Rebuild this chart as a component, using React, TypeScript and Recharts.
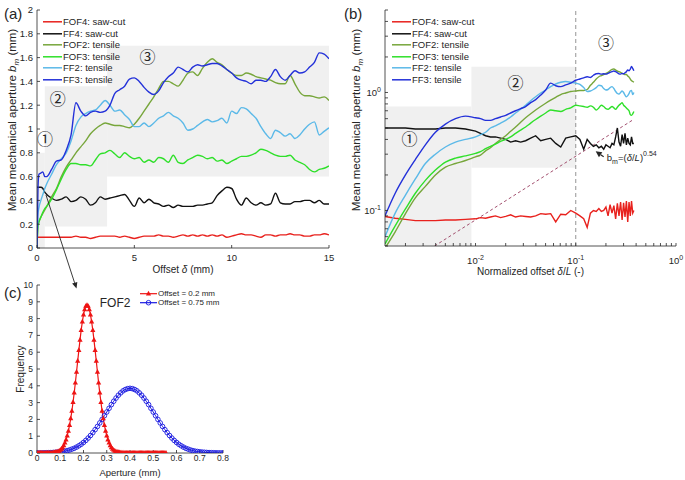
import React from "react";
import {
  LineChart,
  Line,
  XAxis,
  YAxis,
  ReferenceArea,
  ReferenceLine,
  ReferenceDot,
} from "recharts";

const FONT = '"Liberation Sans", Arial, Helvetica, sans-serif';
const CIRCLED_FONT = '"Noto Sans CJK SC", "Noto Sans CJK JP", "DejaVu Sans", sans-serif';
const INK = "#262626";
const SHADE = "#f0f0f0";

// ---- series shared by panels (a) and (b)
const seriesKeys = ["FOF4", "FF4", "FOF2", "FOF3", "FF2", "FF3"];
const seriesNames = ["FOF4: saw-cut", "FF4: saw-cut", "FOF2: tensile", "FOF3: tensile", "FF2: tensile", "FF3: tensile"];
const seriesColors = ["#e8211d", "#111111", "#77a63b", "#2fe02a", "#5bb9e8", "#2331d9"];

// ---- panel (a): offset in mm
const offsetMm = [
  0, 0.05, 0.1, 0.2, 0.3, 0.4, 0.5, 0.75,
  1, 1.25, 1.5, 1.75, 2, 2.25, 2.5, 2.75,
  3, 3.25, 3.5, 3.75, 4, 4.25, 4.5, 4.75,
  5, 5.25, 5.5, 5.75, 6, 6.25, 6.5, 6.75,
  7, 7.25, 7.5, 7.75, 8, 8.25, 8.5, 8.75,
  9, 9.25, 9.5, 9.75, 10, 10.25, 10.5, 10.75,
  11, 11.25, 11.5, 11.75, 12, 12.25, 12.5, 12.75,
  13, 13.25, 13.5, 13.75, 14, 14.25, 14.5, 14.75,
  15,
];
const aFOF4 = [
  0.09, 0.09, 0.09, 0.09, 0.09, 0.09, 0.09, 0.09,
  0.09, 0.09, 0.09, 0.09, 0.1, 0.09, 0.09, 0.08,
  0.09, 0.1, 0.1, 0.1, 0.1, 0.09, 0.1, 0.09,
  0.08, 0.09, 0.1, 0.1, 0.1, 0.11, 0.1, 0.1,
  0.09, 0.1, 0.11, 0.1, 0.11, 0.1, 0.11, 0.1,
  0.11, 0.1, 0.11, 0.09, 0.1, 0.11, 0.12, 0.11,
  0.11, 0.1, 0.09, 0.11, 0.11, 0.1, 0.11, 0.11,
  0.12, 0.11, 0.11, 0.1, 0.1, 0.11, 0.11, 0.12,
  0.11,
];
const aFF4 = [
  0.51, 0.51, 0.51, 0.51, 0.5, 0.47, 0.45, 0.42,
  0.4, 0.41, 0.43, 0.39, 0.4, 0.43, 0.41, 0.36,
  0.38, 0.43, 0.41, 0.42, 0.43, 0.44, 0.45, 0.4,
  0.35, 0.42, 0.38, 0.41, 0.38, 0.37, 0.35, 0.36,
  0.34, 0.36, 0.35, 0.35, 0.35, 0.36, 0.36, 0.37,
  0.38, 0.44, 0.48, 0.51, 0.5, 0.41, 0.36, 0.42,
  0.38, 0.36, 0.38, 0.36, 0.37, 0.46, 0.38, 0.37,
  0.37, 0.39, 0.39, 0.4, 0.4, 0.38, 0.4, 0.37,
  0.37,
];
const aFOF2 = [
  0, 0.19, 0.22, 0.26, 0.29, 0.32, 0.35, 0.43,
  0.5, 0.6, 0.68, 0.74, 0.8, 0.85, 0.9, 0.96,
  1.0, 1.03, 1.05, 1.04, 1.03, 1.03, 1.02, 1.01,
  1.04, 1.09, 1.15, 1.21, 1.27, 1.34, 1.4, 1.4,
  1.38, 1.36, 1.41, 1.47, 1.48, 1.45, 1.51, 1.56,
  1.59, 1.56, 1.54, 1.5, 1.47, 1.45, 1.45, 1.47,
  1.46, 1.44, 1.43, 1.42, 1.41, 1.39, 1.38, 1.38,
  1.45, 1.38, 1.31, 1.28, 1.28, 1.27, 1.26, 1.27,
  1.24,
];
const aFOF3 = [
  0, 0.19, 0.22, 0.26, 0.3, 0.33, 0.35, 0.41,
  0.49, 0.58, 0.66, 0.71, 0.71, 0.7, 0.7, 0.69,
  0.74, 0.79, 0.8, 0.82, 0.79, 0.76, 0.8, 0.77,
  0.75, 0.76, 0.72, 0.74, 0.72, 0.76, 0.75, 0.72,
  0.78, 0.72, 0.71, 0.74, 0.76, 0.78, 0.77, 0.75,
  0.76, 0.73, 0.74, 0.71, 0.73, 0.75, 0.77, 0.77,
  0.78, 0.8, 0.83, 0.82, 0.8, 0.78, 0.77, 0.77,
  0.78, 0.74, 0.72, 0.7, 0.66, 0.64, 0.66, 0.67,
  0.69,
];
const aFF2 = [
  0, 0.28, 0.34, 0.4, 0.45, 0.5, 0.54, 0.62,
  0.7, 0.75, 0.8, 0.9, 1.03, 1.1, 1.13, 1.15,
  1.16, 1.2, 1.24, 1.2, 1.15, 1.16, 1.12, 1.08,
  1.02, 1.02, 1.05, 1.02, 1.05, 1.09, 1.11, 1.14,
  1.11, 1.09, 1.05, 0.99, 1.0, 1.03, 1.06, 1.08,
  1.06, 1.07, 1.09, 1.05, 1.15, 1.13, 1.18, 1.17,
  1.13, 1.09, 1.02, 0.96, 0.92, 0.99, 0.97, 0.94,
  0.96, 0.92, 0.95, 1.0, 1.04, 1.06, 0.95, 0.98,
  1.01,
];
const aFF3 = [
  0, 0.5, 0.62, 0.63, 0.64, 0.6, 0.6, 0.66,
  0.73, 0.74, 0.82, 0.95, 1.22, 1.15, 1.11, 1.14,
  1.15, 1.14, 1.15, 1.2, 1.3, 1.33, 1.36, 1.42,
  1.43, 1.4, 1.35, 1.31, 1.29, 1.32, 1.39, 1.44,
  1.47, 1.52, 1.5, 1.48, 1.52, 1.54, 1.53, 1.54,
  1.55, 1.55, 1.53, 1.5, 1.47, 1.43, 1.41, 1.4,
  1.38, 1.41, 1.41, 1.4, 1.44, 1.5, 1.44, 1.41,
  1.45, 1.49, 1.47, 1.48, 1.52, 1.56, 1.64, 1.63,
  1.59,
];
const aXTicks = [0, 5, 10, 15];
const aYTicks = [0, 0.2, 0.4, 0.6, 0.8, 1, 1.2, 1.4, 1.6, 1.8, 2];

// ---- panel (b): normalized offset (log-log)
const normOffset = [
  0.00125, 0.00158, 0.002, 0.00251, 0.00316, 0.00398, 0.00501, 0.00631, 0.00794, 0.01,
  0.0112, 0.0126, 0.0141, 0.0158, 0.0178, 0.02, 0.0224, 0.0251, 0.0282, 0.0316,
  0.0355, 0.0398, 0.0447, 0.0501, 0.0562, 0.0631, 0.0708, 0.0794, 0.0891, 0.1,
  0.11, 0.12, 0.13, 0.14, 0.15, 0.16, 0.17, 0.18, 0.19, 0.2,
  0.21, 0.22, 0.23, 0.24, 0.25, 0.26, 0.27, 0.28, 0.29, 0.3,
  0.31, 0.32, 0.33, 0.34, 0.35, 0.36, 0.37, 0.38,
];
const bFOF4 = [
  0.089, 0.086, 0.084, 0.082, 0.082, 0.082, 0.083, 0.083, 0.084, 0.085,
  0.087, 0.086, 0.088, 0.09, 0.087, 0.089, 0.092, 0.088, 0.09, 0.089,
  0.088, 0.09, 0.094, 0.093, 0.094, 0.08, 0.093, 0.092, 0.1, 0.095,
  0.09, 0.085, 0.072, 0.095, 0.1, 0.098, 0.104, 0.098, 0.1, 0.107,
  0.09, 0.112, 0.095, 0.11, 0.085, 0.115, 0.09, 0.118, 0.083, 0.116,
  0.088, 0.12, 0.08, 0.118, 0.09, 0.12, 0.095, 0.1,
];
const bFF4 = [
  0.5, 0.5, 0.5, 0.49, 0.49, 0.49, 0.5, 0.5, 0.49, 0.47,
  0.45, 0.43, 0.42, 0.42, 0.41, 0.4, 0.38, 0.39, 0.38, 0.39,
  0.41, 0.43, 0.39, 0.4, 0.41, 0.37, 0.345, 0.41, 0.42, 0.43,
  0.4, 0.33, 0.4, 0.37, 0.35, 0.36, 0.34, 0.35, 0.33, 0.36,
  0.35, 0.34, 0.37, 0.36, 0.42, 0.5, 0.38, 0.35, 0.44, 0.37,
  0.45, 0.36, 0.41, 0.37, 0.36, 0.42, 0.37, 0.37,
];
const bFOF2 = [
  0.048, 0.066, 0.094, 0.128, 0.16, 0.2, 0.233, 0.25, 0.265, 0.285,
  0.295, 0.32, 0.34, 0.37, 0.4, 0.43, 0.47, 0.51, 0.56, 0.61,
  0.66, 0.71, 0.76, 0.81, 0.86, 0.91, 0.96, 0.99, 1.02, 1.03,
  1.04, 1.04, 1.06, 1.15, 1.22, 1.3, 1.36, 1.39, 1.42, 1.45,
  1.48, 1.53, 1.57, 1.58, 1.55, 1.52, 1.5, 1.48, 1.45, 1.44,
  1.42, 1.42, 1.38, 1.35, 1.3, 1.26, 1.24, 1.22,
];
const bFOF3 = [
  0.052, 0.074, 0.103, 0.14, 0.18, 0.22, 0.257, 0.278, 0.29, 0.305,
  0.315, 0.334, 0.35, 0.365, 0.385, 0.4, 0.42, 0.45, 0.48, 0.51,
  0.55, 0.59, 0.63, 0.67, 0.71, 0.7, 0.69, 0.72, 0.74, 0.78,
  0.77, 0.76, 0.75, 0.77, 0.75, 0.71, 0.74, 0.78, 0.76, 0.73,
  0.72, 0.74, 0.76, 0.74, 0.72, 0.75, 0.78, 0.8, 0.82, 0.78,
  0.76, 0.74, 0.72, 0.7, 0.65, 0.64, 0.66, 0.69,
];
const bFF2 = [
  0.06, 0.095, 0.135, 0.185, 0.25, 0.3, 0.345, 0.38, 0.4, 0.42,
  0.44, 0.46, 0.5, 0.52, 0.55, 0.58, 0.62, 0.67, 0.72, 0.78,
  0.85, 0.92, 0.99, 1.05, 1.12, 1.18, 1.22, 1.24, 1.22, 1.2,
  1.17, 1.1, 1.02, 1.03, 1.06, 1.1, 1.15, 1.14, 1.08, 1.05,
  1.06, 1.1, 1.12, 1.08, 1.02, 0.98, 0.97, 1.0, 1.03, 1.0,
  0.95, 0.92, 0.94, 0.98, 1.03, 1.04, 0.96, 1.0,
];
const bFF3 = [
  0.09, 0.14, 0.2, 0.27, 0.36, 0.46, 0.54, 0.6, 0.63, 0.61,
  0.6, 0.58, 0.58, 0.6, 0.62, 0.64, 0.67, 0.7, 0.73, 0.76,
  0.82, 0.87, 0.95, 1.05, 1.2, 1.14, 1.12, 1.16, 1.2, 1.27,
  1.3, 1.33, 1.36, 1.34, 1.4, 1.44, 1.45, 1.43, 1.44, 1.43,
  1.45, 1.48, 1.5, 1.52, 1.5, 1.47, 1.44, 1.43, 1.45, 1.44,
  1.47, 1.5, 1.55, 1.53, 1.58, 1.66, 1.6, 1.53,
];
const bXTicks = [
  0.002, 0.003, 0.004, 0.005, 0.006, 0.007, 0.008, 0.009,
  0.01, 0.02, 0.03, 0.04, 0.05, 0.06, 0.07, 0.08, 0.09,
  0.1, 0.2, 0.3, 0.4, 0.5, 0.6, 0.7, 0.8, 0.9, 1,
];
const bYTicks = [
  0.05, 0.06, 0.07, 0.08, 0.09,
  0.1, 0.2, 0.3, 0.4, 0.5, 0.6, 0.7, 0.8, 0.9,
  1, 2, 3, 4, 5,
];
// power-law guide b_m = (δ/L)^0.54, end points
const fitX = [0.0039, 0.38];
const fitY = [0.05, 0.593];

// ---- panel (c): aperture distributions of FOF2
const redStep = 0.005; // offset = 0.2 mm
const redFreq = [
  0, 0, 0, 0, 0, 0, 0, 0, 0, 0, 0, 0,
  0.01, 0.01, 0.02, 0.03, 0.04, 0.06, 0.08, 0.12, 0.17, 0.24,
  0.33, 0.45, 0.6, 0.79, 1.03, 1.31, 1.65, 2.05, 2.5, 3.02,
  3.58, 4.18, 4.82, 5.47, 6.11, 6.73, 7.31, 7.81, 8.23, 8.54,
  8.74, 8.8, 8.74, 8.54, 8.23, 7.81, 7.31, 6.73, 6.11, 5.47,
  4.82, 4.18, 3.58, 3.02, 2.5, 2.05, 1.65, 1.31, 1.03, 0.79,
  0.6, 0.45, 0.33, 0.24, 0.17, 0.12, 0.08, 0.06, 0.04, 0.03,
  0.02, 0.01, 0.01,
  0, 0, 0, 0, 0, 0, 0, 0, 0, 0, 0, 0, 0, 0, 0, 0, 0, 0, 0,
  0, 0, 0, 0, 0, 0, 0, 0, 0, 0, 0, 0, 0, 0, 0, 0, 0, 0,
];
const blueStep = 0.01; // offset = 0.75 mm
const blueFreq = [
  0.004, 0.005, 0.007, 0.01, 0.013, 0.018, 0.024, 0.032, 0.042, 0.055,
  0.07, 0.09, 0.11, 0.14, 0.18, 0.23, 0.28, 0.35, 0.43, 0.52,
  0.63, 0.75, 0.89, 1.04, 1.21, 1.39, 1.58, 1.79, 2.0, 2.22,
  2.44, 2.66, 2.88, 3.08, 3.27, 3.44, 3.58, 3.7, 3.78, 3.83,
  3.85,
  3.83, 3.78, 3.7, 3.58, 3.44, 3.27, 3.08, 2.88, 2.66, 2.44,
  2.22, 2.0, 1.79, 1.58, 1.39, 1.21, 1.04, 0.89, 0.75, 0.63,
  0.52, 0.43, 0.35, 0.28, 0.23, 0.18, 0.14, 0.11, 0.09, 0.07,
  0.055, 0.042, 0.032, 0.024, 0.018, 0.013, 0.01, 0.007, 0.005, 0.004,
];
const cXTicks = [0, 0.1, 0.2, 0.3, 0.4, 0.5, 0.6, 0.7, 0.8];
const cYTicks = [0, 1, 2, 3, 4, 5, 6, 7, 8, 9, 10];
const RED_C = "#ee1414";
const BLUE_C = "#1818e0";

// ---- built tables
const aSeries = [aFOF4, aFF4, aFOF2, aFOF3, aFF2, aFF3];
const bSeries = [bFOF4, bFF4, bFOF2, bFOF3, bFF2, bFF3];
const buildRows = (xs: number[], cols: number[][]) =>
  xs.map((x, i) => {
    const row: any = { x };
    seriesKeys.forEach((k, s) => (row[k] = cols[s][i]));
    return row;
  });
const aData = buildRows(offsetMm, aSeries);
const bData = buildRows(normOffset, bSeries);
const fitData = fitX.map((x, i) => ({ x, fit: fitY[i] }));
const redData = redFreq.map((f, i) => ({ a: Math.round(i * redStep * 1000) / 1000, f }));
const blueData = blueFreq.map((f, i) => ({ a: Math.round(i * blueStep * 1000) / 1000, f }));

// annotation placement (data coordinates)
const aRegions = [
  { x1: 0, x2: 0.4, y1: 0, y2: 0.8 },
  { x1: 0.4, x2: 3.6, y1: 0.18, y2: 1.36 },
  { x1: 3.6, x2: 15, y1: 0.6, y2: 1.7 },
];
const aStages = [
  { t: "①", x: 0.41, y: 0.91 },
  { t: "②", x: 1.06, y: 1.25 },
  { t: "③", x: 5.68, y: 1.6 },
];
const bRegions = [
  { x1: 0.00125, x2: 0.0091, y1: 0.05, y2: 0.76 },
  { x1: 0.0091, x2: 0.1, y1: 0.23, y2: 1.65 },
];
const bStages = [
  { t: "①", x: 0.0022, y: 0.4 },
  { t: "②", x: 0.025, y: 1.18 },
  { t: "③", x: 0.2, y: 2.6 },
];

const axisStroke = { stroke: INK, strokeWidth: 0.8 };
const tickText = { fill: INK, fontSize: 9.5, fontFamily: FONT };

const XTitle = (props: any) => {
  const { viewBox, parts, baseline, size } = props;
  if (!viewBox) return null;
  return (
    <text x={viewBox.x + viewBox.width / 2} y={viewBox.y + baseline} textAnchor="middle" fontFamily={FONT} fontSize={size} fill={INK}>
      {parts.map((p: any, i: number) => (
        <tspan key={i} fontStyle={p[1] ? "italic" : "normal"}>{p[0]}</tspan>
      ))}
    </text>
  );
};

const YTitleBm = (props: any) => {
  const { viewBox, shiftX, shiftY } = props;
  if (!viewBox) return null;
  const x = viewBox.x + shiftX;
  const y = viewBox.y + viewBox.height / 2 + shiftY;
  return (
    <text transform={`translate(${x},${y}) rotate(-90)`} textAnchor="middle" fontFamily={FONT} fontSize={11.5} fill={INK}>
      Mean mechanical aperture <tspan fontStyle="italic">b</tspan>
      <tspan fontStyle="italic" fontSize={8} dy={3}>m</tspan>
      <tspan dy={-3}> (mm)</tspan>
    </text>
  );
};

const YTitlePlain = (props: any) => {
  const { viewBox, shiftX, text, size } = props;
  if (!viewBox) return null;
  const x = viewBox.x + shiftX;
  const y = viewBox.y + viewBox.height / 2;
  return (
    <text transform={`translate(${x},${y}) rotate(-90)`} textAnchor="middle" fontFamily={FONT} fontSize={size} fill={INK}>
      {text}
    </text>
  );
};

const isDecade = (v: number) => {
  const e = Math.log10(v);
  return Math.abs(e - Math.round(e)) < 1e-6;
};

const LogTickX = (props: any) => {
  const { x, y, payload } = props;
  if (!isDecade(payload.value)) return <g />;
  const e = Math.round(Math.log10(payload.value));
  return (
    <text x={x} y={y} textAnchor="middle" fontFamily={FONT} fontSize={9.5} fill={INK}>
      <tspan dy={9}>10</tspan>
      <tspan dy={-4} fontSize={7}>{e}</tspan>
    </text>
  );
};

const LogTickY = (props: any) => {
  const { x, y, payload } = props;
  if (!isDecade(payload.value)) return <g />;
  const e = Math.round(Math.log10(payload.value));
  return (
    <text x={x} y={y} textAnchor="end" fontFamily={FONT} fontSize={9.5} fill={INK}>
      <tspan dy={4}>10</tspan>
      <tspan dy={-4} fontSize={7}>{e}</tspan>
    </text>
  );
};

const stageShape = (t: string) => (p: any) => (
  <text x={p.cx} y={p.cy} dy={5.5} textAnchor="middle" fontFamily={CIRCLED_FONT} fontSize={16} fill={INK}>
    {t}
  </text>
);

const powerLawText = (p: any) => (
  <text x={p.cx} y={p.cy} fontFamily={FONT} fontSize={9.5} fill={INK}>
    b<tspan fontSize={7} dy={3}>m</tspan>
    <tspan dy={-3}>=(</tspan>
    <tspan fontStyle="italic">δ</tspan>
    <tspan>/</tspan>
    <tspan fontStyle="italic">L</tspan>
    <tspan>)</tspan>
    <tspan fontSize={7} dy={-5}>0.54</tspan>
  </text>
);

const fof2Text = (p: any) => (
  <text x={p.cx} y={p.cy} dy={4} textAnchor="middle" fontFamily={FONT} fontSize={12} fill={INK}>
    FOF2
  </text>
);

const arrowShape = (p: any) => {
  const { x1, y1, x2, y2 } = p;
  const len = Math.hypot(x2 - x1, y2 - y1) || 1;
  const ux = (x2 - x1) / len;
  const uy = (y2 - y1) / len;
  const bx = x2 - ux * 6;
  const by = y2 - uy * 6;
  return (
    <g>
      <line x1={x1} y1={y1} x2={bx} y2={by} stroke={INK} strokeWidth={1.2} />
      <path d={`M${x2},${y2}L${bx - uy * 3},${by + ux * 3}L${bx + uy * 3},${by - ux * 3}Z`} fill={INK} />
    </g>
  );
};

const renderTriangle = (p: any) => {
  const { cx, cy, index } = p;
  if (cx == null || cy == null) return <g key={`t${index}`} />;
  return <path key={`t${index}`} d={`M${cx},${cy - 3}L${cx + 2.6},${cy + 1.7}L${cx - 2.6},${cy + 1.7}Z`} fill={RED_C} />;
};

const SeriesLegend = ({ left, top }: any) => (
  <div style={{ position: "absolute", left, top, fontFamily: FONT, fontSize: 9.5, color: INK }}>
    {seriesNames.map((name, i) => (
      <div key={name} style={{ display: "flex", alignItems: "center", height: 11.55, whiteSpace: "nowrap" }}>
        <svg width={19} height={11.55} style={{ display: "block" }}>
          <line x1={0} x2={19} y1={5.8} y2={5.8} stroke={seriesColors[i]} strokeWidth={1.5} />
        </svg>
        <span style={{ marginLeft: 1, lineHeight: "11.55px" }}>{name}</span>
      </div>
    ))}
  </div>
);

const PanelTag = ({ left, top, text }: any) => (
  <div style={{ position: "absolute", left, top, fontFamily: FONT, fontSize: 15, lineHeight: "15px", color: INK }}>{text}</div>
);

export default function App() {
  return (
    <div style={{ position: "absolute", left: 0, top: 0, width: 685, height: 480, background: "#fff", overflow: "hidden", fontFamily: FONT }}>
      {/* (a) linear offset */}
      <div style={{ position: "absolute", left: 0, top: 0 }}>
        <LineChart width={340} height={285} data={aData} margin={{ top: 10, right: 11, bottom: 7, left: 7 }}>
          {aRegions.map((r, i) => (
            <ReferenceArea key={`ar${i}`} x1={r.x1} x2={r.x2} y1={r.y1} y2={r.y2} fill={SHADE} fillOpacity={1} stroke="none" ifOverflow="hidden" />
          ))}
          <XAxis
            dataKey="x" type="number" domain={[0, 15]} ticks={aXTicks} interval={0} allowDataOverflow
            height={30} tickSize={-3} tickMargin={9} axisLine={axisStroke} tickLine={axisStroke} tick={tickText}
            label={<XTitle parts={[["Offset ", 0], ["δ", 1], [" (mm)", 0]]} baseline={25} size={10} />}
          />
          <YAxis
            type="number" domain={[0, 2]} ticks={aYTicks} interval={0} allowDataOverflow
            width={30} tickSize={-3} tickMargin={7} axisLine={axisStroke} tickLine={axisStroke} tick={tickText}
            label={<YTitleBm shiftX={9} shiftY={-9} />}
          />
          <XAxis xAxisId="top" orientation="top" dataKey="x" type="number" domain={[0, 15]} ticks={aXTicks} allowDataOverflow height={0} tickSize={-3} tick={false} axisLine={axisStroke} tickLine={axisStroke} />
          <YAxis yAxisId="right" orientation="right" type="number" domain={[0, 2]} ticks={aYTicks} allowDataOverflow width={0} tickSize={-3} tick={false} axisLine={axisStroke} tickLine={axisStroke} />
          {seriesKeys.map((k, i) => (
            <Line key={k} type="monotone" dataKey={k} stroke={seriesColors[i]} strokeWidth={1.4} dot={false} isAnimationActive={false} />
          ))}
          {aStages.map((s) => (
            <ReferenceDot key={s.t} x={s.x} y={s.y} r={0} shape={stageShape(s.t)} />
          ))}
        </LineChart>
      </div>

      {/* (b) log-log */}
      <div style={{ position: "absolute", left: 340, top: 0 }}>
        <LineChart width={345} height={285} data={bData} margin={{ top: 10, right: 9, bottom: 9, left: 9 }}>
          {bRegions.map((r, i) => (
            <ReferenceArea key={`br${i}`} x1={r.x1} x2={r.x2} y1={r.y1} y2={r.y2} fill={SHADE} fillOpacity={1} stroke="none" ifOverflow="hidden" />
          ))}
          <XAxis
            dataKey="x" type="number" scale="log" domain={[0.00125, 1]} ticks={bXTicks} interval={0} allowDataOverflow
            height={30} tickSize={-3} tickMargin={12} axisLine={axisStroke} tickLine={axisStroke} tick={<LogTickX />}
            label={<XTitle parts={[["Normalized offset ", 0], ["δ", 1], ["/", 0], ["L", 1], [" (-)", 0]]} baseline={29} size={10} />}
          />
          <YAxis
            type="number" scale="log" domain={[0.05, 5]} ticks={bYTicks} interval={0} allowDataOverflow
            width={36} tickSize={-3} tickMargin={7} axisLine={axisStroke} tickLine={axisStroke} tick={<LogTickY />}
            label={<YTitleBm shiftX={11} shiftY={-8} />}
          />
          <XAxis xAxisId="top" orientation="top" dataKey="x" type="number" scale="log" domain={[0.00125, 1]} ticks={bXTicks} allowDataOverflow height={0} tickSize={-3} tick={false} axisLine={axisStroke} tickLine={axisStroke} />
          <YAxis yAxisId="right" orientation="right" type="number" scale="log" domain={[0.05, 5]} ticks={bYTicks} allowDataOverflow width={0} tickSize={-3} tick={false} axisLine={axisStroke} tickLine={axisStroke} />
          <ReferenceLine x={0.1} stroke="#7a7a7a" strokeWidth={0.8} strokeDasharray="4 3" />
          <Line data={fitData} dataKey="fit" type="linear" stroke="#a3506f" strokeWidth={1} strokeDasharray="3 2.5" dot={false} legendType="none" isAnimationActive={false} />
          {seriesKeys.map((k, i) => (
            <Line key={k} type={i < 2 ? "linear" : "monotone"} dataKey={k} stroke={seriesColors[i]} strokeWidth={1.4} dot={false} isAnimationActive={false} />
          ))}
          {bStages.map((s) => (
            <ReferenceDot key={s.t} x={s.x} y={s.y} r={0} shape={stageShape(s.t)} />
          ))}
          <ReferenceLine segment={[{ x: 0.19, y: 0.285 }, { x: 0.158, y: 0.317 }]} shape={arrowShape} />
          <ReferenceDot x={0.204} y={0.261} r={0} shape={powerLawText} />
        </LineChart>
      </div>

      {/* (c) aperture distributions */}
      <div style={{ position: "absolute", left: 0, top: 280 }}>
        <LineChart width={240} height={200} margin={{ top: 5, right: 17, bottom: 3, left: 7 }}>
          <XAxis
            dataKey="a" type="number" domain={[0, 0.8]} ticks={cXTicks} interval={0} allowDataOverflow
            height={24} tickSize={-3} tickMargin={5} axisLine={axisStroke} tickLine={axisStroke} tick={{ ...tickText, fontSize: 8.5 }}
            label={<XTitle parts={[["Aperture (mm)", 0]]} baseline={23} size={9.5} />}
          />
          <YAxis
            type="number" domain={[0, 10]} ticks={cYTicks} interval={0} allowDataOverflow
            width={30} tickSize={-3} tickMargin={7} axisLine={axisStroke} tickLine={axisStroke} tick={{ ...tickText, fontSize: 8.5 }}
            label={<YTitlePlain text="Frequency" shiftX={17} size={10} />}
          />
          <XAxis xAxisId="top" orientation="top" dataKey="a" type="number" domain={[0, 0.8]} ticks={cXTicks} allowDataOverflow height={0} tickSize={-3} tick={false} axisLine={axisStroke} tickLine={axisStroke} />
          <YAxis yAxisId="right" orientation="right" type="number" domain={[0, 10]} ticks={cYTicks} allowDataOverflow width={0} tickSize={-3} tick={false} axisLine={axisStroke} tickLine={axisStroke} />
          <Line data={blueData} dataKey="f" type="linear" stroke={BLUE_C} strokeWidth={1} dot={{ r: 2.3, fill: "none", stroke: BLUE_C, strokeWidth: 0.9 }} isAnimationActive={false} />
          <Line data={redData} dataKey="f" type="linear" stroke={RED_C} strokeWidth={1.2} dot={renderTriangle} isAnimationActive={false} />
          <ReferenceDot x={0.336} y={8.95} r={0} shape={fof2Text} />
        </LineChart>
      </div>

      <SeriesLegend left={43} top={16} />
      <SeriesLegend left={392} top={16} />

      {/* (c) legend */}
      <div style={{ position: "absolute", left: 140, top: 288.5, fontFamily: FONT, fontSize: 8, color: INK }}>
        {[
          { name: "Offset = 0.2 mm", color: RED_C, tri: true },
          { name: "Offset = 0.75 mm", color: BLUE_C, tri: false },
        ].map((it) => (
          <div key={it.name} style={{ display: "flex", alignItems: "center", height: 9.4, whiteSpace: "nowrap" }}>
            <svg width={17} height={9.4} style={{ display: "block" }}>
              <line x1={0} x2={17} y1={4.7} y2={4.7} stroke={it.color} strokeWidth={1.2} />
              {it.tri ? (
                <path d="M8.5,1.7L11.1,6.4L5.9,6.4Z" fill={it.color} />
              ) : (
                <circle cx={8.5} cy={4.7} r={2.3} fill="none" stroke={it.color} strokeWidth={0.9} />
              )}
            </svg>
            <span style={{ marginLeft: 1, lineHeight: "9.4px" }}>{it.name}</span>
          </div>
        ))}
      </div>

      <PanelTag left={4} top={6} text="(a)" />
      <PanelTag left={344} top={6} text="(b)" />
      <PanelTag left={4} top={285} text="(c)" />

      {/* arrow from panel (a) to panel (c) */}
      <svg width={685} height={480} style={{ position: "absolute", left: 0, top: 0, pointerEvents: "none" }}>
        <line x1={46} y1={195} x2={74.6} y2={282.8} stroke={INK} strokeWidth={0.9} />
        <path d="M76.5,288.5L77.3,281.9L72.1,283.6Z" fill={INK} />
      </svg>
    </div>
  );
}
